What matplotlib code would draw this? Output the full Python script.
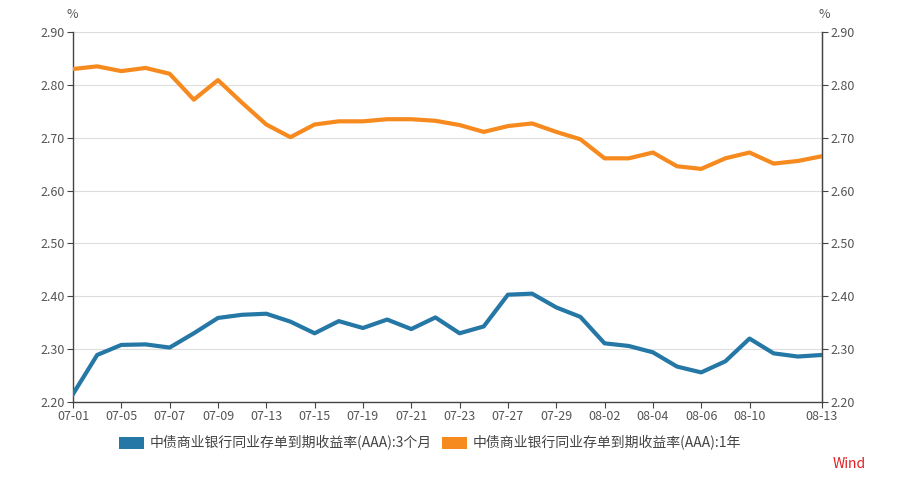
import matplotlib
matplotlib.use("Agg")
import matplotlib.pyplot as plt
from matplotlib.patches import Patch

plt.rcParams['font.family'] = ['Noto Sans CJK SC', 'DejaVu Sans']

dates = ["07-01", "07-02", "07-05", "07-06", "07-07", "07-08", "07-09", "07-12",
         "07-13", "07-14", "07-15", "07-16", "07-19", "07-20", "07-21", "07-22",
         "07-23", "07-26", "07-27", "07-28", "07-29", "07-30", "08-02", "08-03",
         "08-04", "08-05", "08-06", "08-09", "08-10", "08-11", "08-12", "08-13"]

rate_3m = [2.215, 2.289, 2.308, 2.309, 2.303, 2.330, 2.359, 2.365,
           2.367, 2.352, 2.330, 2.353, 2.340, 2.356, 2.338, 2.360,
           2.330, 2.343, 2.403, 2.405, 2.379, 2.361, 2.311, 2.306,
           2.294, 2.267, 2.256, 2.277, 2.320, 2.292, 2.286, 2.289]

rate_1y = [2.830, 2.835, 2.826, 2.832, 2.821, 2.772, 2.809, 2.766,
           2.725, 2.701, 2.725, 2.731, 2.731, 2.735, 2.735, 2.732,
           2.724, 2.711, 2.722, 2.727, 2.711, 2.697, 2.661, 2.661,
           2.672, 2.646, 2.641, 2.661, 2.672, 2.651, 2.656, 2.665]

tick_labels = ["07-01", "07-05", "07-07", "07-09", "07-13", "07-15", "07-19", "07-21",
               "07-23", "07-27", "07-29", "08-02", "08-04", "08-06", "08-10", "08-13"]
yticks = [2.20, 2.30, 2.40, 2.50, 2.60, 2.70, 2.80, 2.90]

label_3m = "中债商业银行同业存单到期收益率(AAA):3个月"
label_1y = "中债商业银行同业存单到期收益率(AAA):1年"

c_blue = "#2577a6"
c_orange = "#f68a1e"
axis_col = "#444444"
text_col = "#555555"

fig = plt.figure(figsize=(8.97, 4.83), dpi=100)
ax = fig.add_axes([73/897, 1-402/483, (822-73)/897, (402-32)/483])

x = list(range(len(dates)))
ax.plot(x, rate_3m, color=c_blue, lw=3.0, solid_joinstyle='round', zorder=3)
ax.plot(x, rate_1y, color=c_orange, lw=3.0, solid_joinstyle='round', zorder=3)

ax.set_xlim(0, len(dates)-1)
ax.set_ylim(2.20, 2.90)
ax.set_yticks(yticks)
ax.set_yticklabels([f"{v:.2f}" for v in yticks])
tick_pos = [dates.index(t) for t in tick_labels]
ax.set_xticks(tick_pos)
ax.set_xticklabels(tick_labels)

ax.grid(axis='y', color='#dddddd', lw=0.8)
ax.set_axisbelow(True)
ax.spines['top'].set_visible(False)
for s in ['left', 'right', 'bottom']:
    ax.spines[s].set_color(axis_col)
    ax.spines[s].set_linewidth(1.0)
ax.tick_params(axis='both', colors=axis_col, labelcolor=text_col, labelsize=9, length=4, width=0.8, pad=2)

ax2 = ax.twinx()
ax2.set_ylim(2.20, 2.90)
ax2.set_yticks(yticks)
ax2.set_yticklabels([f"{v:.2f}" for v in yticks])
ax2.spines['top'].set_visible(False)
ax2.spines['left'].set_visible(False)
ax2.spines['bottom'].set_visible(False)
ax2.spines['right'].set_color(axis_col)
ax2.tick_params(axis='y', colors=axis_col, labelcolor=text_col, labelsize=9, length=4, width=0.8, pad=2)

fig.text(72/897, 1-15/483, "%", ha='center', va='center', fontsize=9, color=text_col)
fig.text(824/897, 1-15/483, "%", ha='center', va='center', fontsize=9, color=text_col)

handles = [Patch(facecolor=c_blue, edgecolor='none', label=label_3m),
           Patch(facecolor=c_orange, edgecolor='none', label=label_1y)]
fig.legend(handles=handles, loc='center', bbox_to_anchor=(430/897, 1-443/483), ncol=2,
           frameon=False, fontsize=10, handlelength=1.8, handleheight=1.0,
           handletextpad=0.4, columnspacing=0.8, labelcolor='#444444')

fig.text(849/897, 1-464/483, "Wind", ha='center', va='center', fontsize=10, color='#e02020')

fig.savefig("out.png", dpi=100)
